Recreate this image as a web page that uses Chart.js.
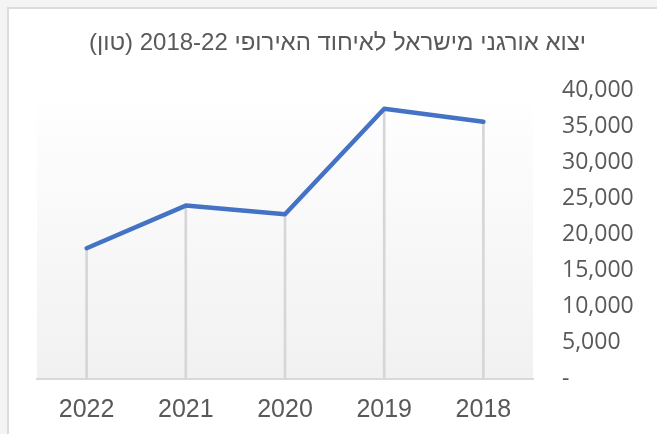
<!DOCTYPE html>
<html lang="he">
<head>
<meta charset="utf-8">
<title>יצוא אורגני</title>
<script src="https://cdn.jsdelivr.net/npm/chart.js@4.4.1/dist/chart.umd.min.js"></script>
<style>
  html, body { margin: 0; padding: 0; }
  body { width: 657px; height: 434px; background: #f4f4f4; position: relative; overflow: hidden; }
  .moldura { position: absolute; left: 7px; top: 7px; width: 680px; height: 460px; background: #fff; border: 2px solid #dcdcdc; }
  #grafico { position: absolute; left: 0; top: 0; }
</style>
</head>
<body>
<div class="moldura"></div>
<canvas id="grafico" width="657" height="434" dir="rtl"></canvas>
<script>
// dados (tonelada)
const anos = ['2022', '2021', '2020', '2019', '2018'];
const exportacao = [18100, 24000, 22800, 37400, 35600];
const titulo = 'יצוא אורגני מישראל לאיחוד האירופי 2018-22 (טון)';
const eixoYMax = 40000;
const eixoYPasso = 5000;

// fundo degradê só na área do gráfico
const fundoArea = {
  id: 'fundoArea',
  beforeDraw(chart) {
    const { ctx, chartArea: a } = chart;
    const g = ctx.createLinearGradient(0, a.top, 0, a.bottom);
    g.addColorStop(0, '#ffffff');
    g.addColorStop(1, '#f1f1f1');
    ctx.save();
    ctx.fillStyle = g;
    ctx.fillRect(a.left, a.top, a.right - a.left, a.bottom - a.top);
    ctx.restore();
  }
};

const ctx = document.getElementById('grafico').getContext('2d');

new Chart(ctx, {
  type: 'line',
  data: {
    labels: anos,
    datasets: [
      {
        type: 'line',
        data: exportacao,
        borderColor: '#4472c4',
        borderWidth: 4.5,
        pointRadius: 0,
        tension: 0,
        borderCapStyle: 'round',
        borderJoinStyle: 'round',
        order: 1
      },
      {
        // linhas verticais até o eixo
        type: 'bar',
        data: exportacao,
        backgroundColor: '#d6d6d6',
        barThickness: 2,
        order: 2
      }
    ]
  },
  options: {
    responsive: false,
    animation: false,
    layout: { padding: { left: 37, right: 19, top: 0, bottom: 9 } },
    plugins: {
      legend: { display: false },
      tooltip: { enabled: false },
      title: {
        display: true,
        text: titulo,
        color: '#595959',
        font: { family: "'Liberation Sans', Arial, sans-serif", size: 24, weight: 'normal' },
        padding: { top: 28.6, bottom: 32.6 }
      }
    },
    scales: {
      x: {
        offset: true,
        grid: { display: true, drawOnChartArea: false, drawTicks: false },
        border: { color: '#d9d9d9', width: 2 },
        afterFit(scale) { scale.height = 46; },
        ticks: {
          color: '#595959',
          padding: 16,
          font: { family: "'Liberation Sans', Arial, sans-serif", size: 25 }
        }
      },
      y: {
        position: 'right',
        min: 0,
        max: eixoYMax,
        grid: { display: false, drawTicks: false },
        border: { display: false },
        afterFit(scale) { scale.width = 105; },
        ticks: {
          stepSize: eixoYPasso,
          color: '#595959',
          padding: 29,
          font: { family: "'Open Sans', sans-serif", size: 23 },
          callback: v => v === 0 ? '-' : v.toLocaleString('en-US')
        }
      }
    }
  },
  plugins: [fundoArea]
});
</script>
</body>
</html>
